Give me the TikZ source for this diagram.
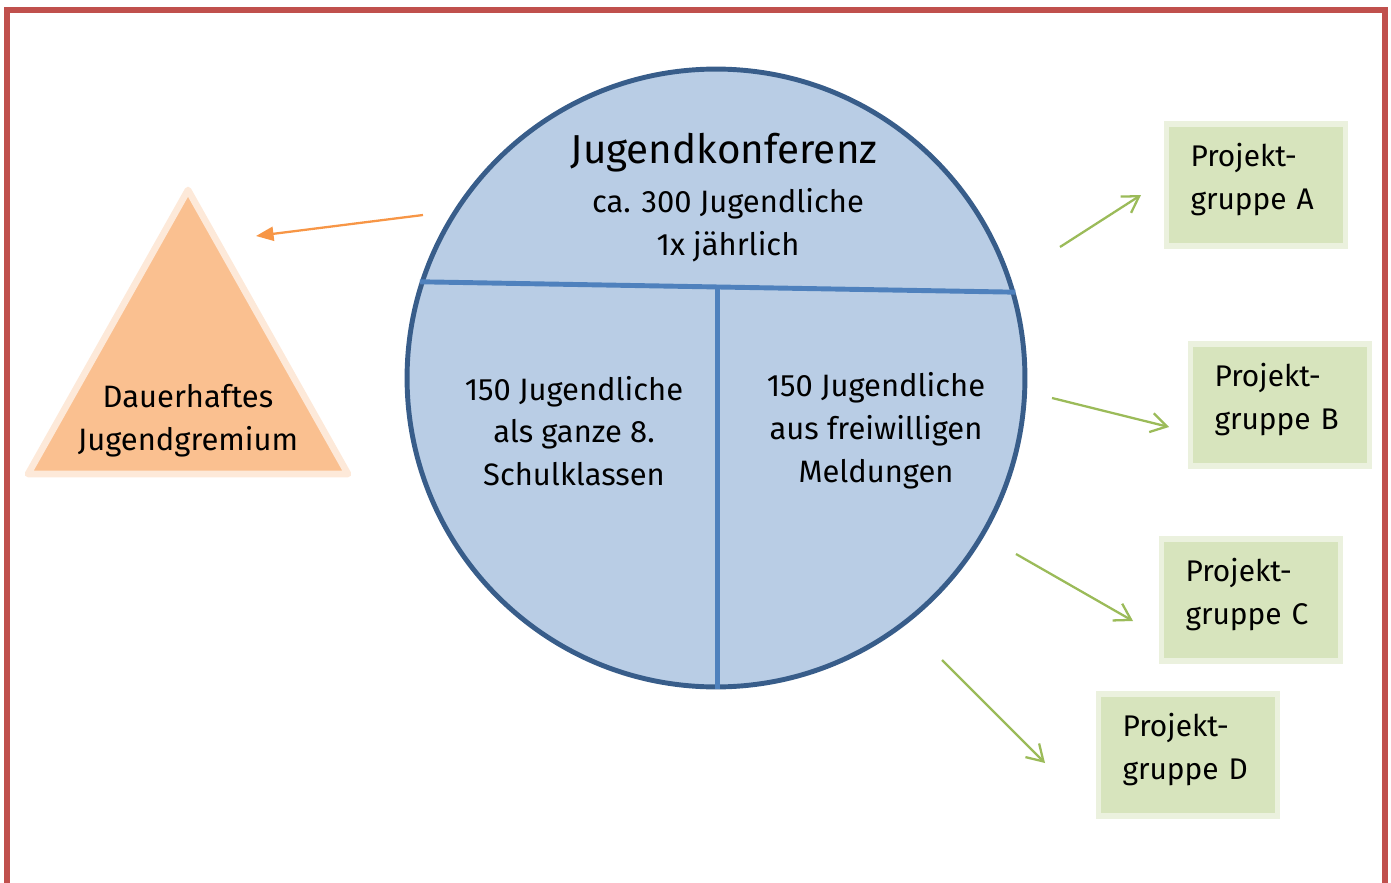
\documentclass[tikz,border=0pt]{standalone}
\usepackage{fontspec}
\setmainfont{Fira Sans}
\usetikzlibrary{arrows.meta,calc}
\definecolor{framered}{HTML}{C0504D}
\definecolor{konffill}{HTML}{B9CDE5}
\definecolor{konfdraw}{HTML}{385D8A}
\definecolor{konfline}{HTML}{4F81BD}
\definecolor{gremfill}{HTML}{FAC090}
\definecolor{gremdraw}{HTML}{FDE9D9}
\definecolor{gremarrow}{HTML}{F79646}
\definecolor{groupfill}{HTML}{D7E4BD}
\definecolor{groupdraw}{HTML}{EBF1DE}
\definecolor{grouparrow}{HTML}{9BBB59}
\begin{document}
\begin{tikzpicture}[x=0.02cm,y=-0.02cm,
        txt/.style={align=center,font=\fontsize{17.6}{24.4}\selectfont},
        group/.style={draw=groupdraw,line width=3.2pt,fill=groupfill,minimum height=2.44cm,
            text width=2.62cm,inner xsep=0.48cm,align=left,text depth=34pt,
            font=\fontsize{17}{24.4}\selectfont},
        garrow/.style={grouparrow,line width=1.3pt,-{Straight Barb[length=9pt,width=11pt]}}]
                \useasboundingbox (0,0) rectangle (1391,882);
                \draw[framered,line width=3.2pt] (7,900) -- (7,10) -- (1385,10) -- (1385,900);
                %% conference circle
                \node[draw=konfdraw,line width=2.8pt,fill=konffill,circle,minimum size=12.36cm] (konf) at (716,378) {};
                \coordinate (mid) at ($(konf.162.4)!0.5!(konf.16.6)$);
                \draw[konfline,line width=2.8pt] (konf.162.4) -- (konf.16.6);
                \draw[konfline,line width=2.8pt] (mid) -- (mid |- konf.south);
                \node[txt,font=\fontsize{23}{26}\selectfont] (title) at (724,153) {Jugendkonferenz};
                \node[txt] (sub) at (728,225) {ca. 300 Jugendliche\\1x jährlich};
                \node[txt] (left) at (574,431) {150 Jugendliche\\als ganze 8.\\Schulklassen};
                \node[txt] (right) at (876,431) {150 Jugendliche\\aus freiwilligen\\Meldungen};
                %% permanent body
                \draw[draw=gremdraw,line width=3.8pt,fill=gremfill,line join=round] (188,190) -- (348,474) -- (28,474) -- cycle;
                \node[txt] (gremtext) at (188,421) {Dauerhaftes\\Jugendgremium};
                %% project groups
                \node[group] (pgA) at (1256,185) {Projekt-\\gruppe A};
                \node[group] (pgB) at (1280,405) {Projekt-\\gruppe B};
                \node[group] (pgC) at (1251,600) {Projekt-\\gruppe C};
                \node[group] (pgD) at (1188,755) {Projekt-\\gruppe D};
                %% arrows
                \coordinate (gs) at (423,215);
                \coordinate (ge) at (256,236);
                \draw[gremarrow,line width=1.3pt,-{Triangle[length=10pt,width=8pt]}] (gs) -- (ge);
                \coordinate (as) at (1060,247); \coordinate (ae) at (1141,195);
                \coordinate (bs) at (1052,398); \coordinate (be) at (1169,427);
                \coordinate (cs) at (1016,554); \coordinate (ce) at (1133,621);
                \coordinate (ds) at (942,660);  \coordinate (de) at (1045,763);
                \draw[garrow] (as) -- (ae);
                \draw[garrow] (bs) -- (be);
                \draw[garrow] (cs) -- (ce);
                \draw[garrow] (ds) -- (de);
            \end{tikzpicture}
\end{document}
